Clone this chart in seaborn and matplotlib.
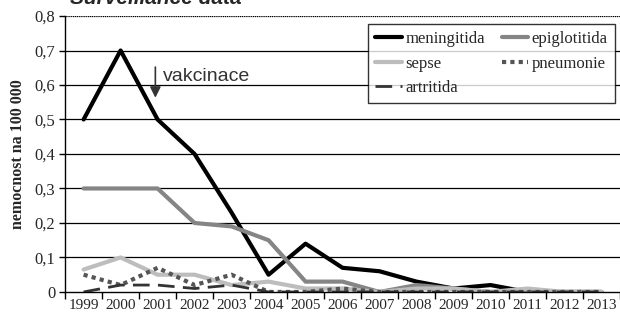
import pandas as pd
import matplotlib.pyplot as plt
import seaborn as sns

years = ['1999', '2000', '2001', '2002', '2003', '2004', '2005', '2006',
         '2007', '2008', '2009', '2010', '2011', '2012', '2013']
meningitida = [0.5, 0.7, 0.5, 0.4, 0.23, 0.05, 0.14, 0.07, 0.06, 0.03, 0.01, 0.02, 0.0, 0.0, 0.0]
epiglotitida = [0.3, 0.3, 0.3, 0.2, 0.19, 0.15, 0.03, 0.03, 0.0, 0.02, 0.01, 0.0, 0.0, 0.0, 0.0]
sepse = [0.065, 0.1, 0.05, 0.05, 0.02, 0.03, 0.01, 0.01, 0.0, 0.01, 0.01, 0.0, 0.01, 0.0, 0.0]
pneumonie = [0.05, 0.02, 0.07, 0.02, 0.05, 0.0, 0.0, 0.01, 0.0, 0.0, 0.0, 0.0, 0.0, 0.0, 0.0]
artritida = [0.0, 0.02, 0.02, 0.01, 0.02, 0.0, 0.0, 0.0, 0.0, 0.0, 0.0, 0.0, 0.0, 0.0, 0.0]
y_ticks = [0, 0.1, 0.2, 0.3, 0.4, 0.5, 0.6, 0.7, 0.8]
y_labels = ['0', '0,1', '0,2', '0,3', '0,4', '0,5', '0,6', '0,7', '0,8']

sns.set_style('white')
plt.rcParams['font.family'] = ['Liberation Serif', 'DejaVu Serif']

pos = list(range(len(years)))
series = [
    ('meningitida', meningitida, '#000000', '-', 3.0),
    ('epiglotitida', epiglotitida, '#858585', '-', 3.0),
    ('sepse', sepse, '#bdbdbd', '-', 3.0),
    ('pneumonie', pneumonie, '#555555', (0, (1, 1)), 3.0),
    ('artritida', artritida, '#333333', (0, (6, 3)), 2.0),
]

fig = plt.figure(figsize=(6.2, 3.17), dpi=100)
ax = fig.add_axes([0.105, 0.079, 0.895, 0.8705])

handles = {}
for name, vals, col, ls, lw in series:
    df = pd.DataFrame({'x': pos, 'y': vals})
    sns.lineplot(data=df, x='x', y='y', ax=ax, color=col, lw=lw, label=name)
    line = ax.lines[-1]
    line.set_linestyle(ls)
    handles[name] = line

# horizontal grid
for v in y_ticks[1:-1]:
    ax.axhline(v, color='black', lw=0.9, zorder=0)
ax.axhline(0.8, color='black', lw=0.9, ls=(0, (1, 0.5)), zorder=0)

ax.set_xlim(-0.5, len(years) - 0.5)
ax.set_ylim(0, 0.8)
ax.set_xticks([p - 0.5 for p in pos] + [len(years) - 0.5])
ax.set_xticklabels([])
ax.set_xticks(pos, minor=True)
ax.set_xticklabels(years, minor=True, fontsize=11)
ax.tick_params(axis='x', which='major', direction='out', length=5, width=1, color='black', bottom=True)
ax.tick_params(axis='x', which='minor', length=0, pad=5)
ax.set_yticks(y_ticks)
ax.set_yticklabels(y_labels, fontsize=12)
ax.tick_params(axis='y', direction='out', length=4, width=1, color='black', left=True, pad=3)
for s in ['top', 'right']:
    ax.spines[s].set_visible(False)
for s in ['left', 'bottom']:
    ax.spines[s].set_color('black')
    ax.spines[s].set_linewidth(1)
ax.set_xlabel('')
ax.set_ylabel('nemocnost na 100 000', fontsize=11.5, fontweight='bold', labelpad=6)

order = ['meningitida', 'sepse', 'artritida', 'epiglotitida', 'pneumonie']
leg = ax.legend([handles[n] for n in order], order, ncol=2, loc='upper right',
                bbox_to_anchor=(0.991, 0.972), borderaxespad=0, frameon=True,
                fancybox=False, fontsize=12, handlelength=1.6, handletextpad=0.2,
                columnspacing=1.0, borderpad=0.45, labelspacing=0.5)
leg.get_frame().set_edgecolor('black')
leg.get_frame().set_linewidth(1)

# vaccination arrow
ax.annotate('', xy=(1.94, 0.555), xytext=(1.94, 0.66),
            arrowprops=dict(arrowstyle='-|>', color='#333333', lw=1.2, mutation_scale=16))
ax.text(2.15, 0.625, 'vakcinace', fontsize=14, color='#333333', va='center',
        family=['Liberation Sans', 'DejaVu Sans'])

fig.text(0.113, 0.986, 'Surveillance data', fontsize=15, fontweight='bold',
         fontstyle='italic', va='baseline', family=['Liberation Sans', 'DejaVu Sans'])

fig.savefig('out.png', dpi=100)
